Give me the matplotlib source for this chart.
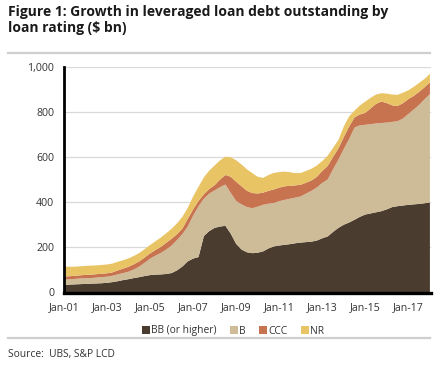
import matplotlib
matplotlib.use("Agg")
import matplotlib.pyplot as plt
import matplotlib.lines as mlines
import matplotlib.patches as mpatches
import numpy as np

# Quarterly observations, Jan-2001 .. Jan-2018 ($ bn)
start_year = 2001
quarters_per_year = 4
bb = [34, 35, 36, 37, 38, 39, 40, 41, 43, 46, 50, 55, 59, 64, 68, 73, 77, 79, 80, 82,
      86, 98, 115, 138, 150, 157, 250, 272, 286, 292, 295, 260, 215, 190, 178, 174, 176, 182, 195, 204,
      208, 211, 214, 218, 221, 223, 225, 230, 240, 248, 268, 286, 300, 310, 322, 335, 345, 350, 355, 360,
      368, 378, 382, 385, 388, 390, 392, 395, 398]
b = [23, 23, 24, 25, 25, 25, 26, 27, 27, 28, 30, 31, 33, 38, 47, 59, 73, 84, 95, 108,
     122, 134, 143, 154, 190, 225, 165, 166, 166, 174, 183, 180, 190, 200, 200, 199, 204, 206, 198, 192,
     196, 199, 201, 202, 204, 215, 225, 235, 245, 252, 277, 302, 335, 370, 408, 405, 397, 395, 393, 390,
     384, 377, 376, 385, 402, 420, 438, 460, 480]
ccc = [14, 14, 14, 14, 15, 15, 15, 15, 15, 15, 18, 20, 22, 23, 23, 23, 23, 25, 27, 30,
       30, 26, 25, 34, 28, 23, 20, 20, 23, 34, 42, 72, 85, 80, 72, 67, 58, 54, 57, 60,
       60, 60, 57, 54, 52, 48, 46, 47, 53, 60, 55, 50, 53, 55, 45, 48, 53, 70, 87, 95,
       86, 73, 67, 68, 66, 60, 58, 53, 52]
nr = [44, 42, 40, 40, 40, 40, 39, 39, 39, 39, 38, 37, 37, 37, 37, 37, 37, 39, 41, 42,
      44, 48, 52, 49, 57, 63, 75, 82, 87, 85, 81, 86, 95, 96, 95, 88, 74, 65, 70, 73,
      69, 65, 60, 54, 52, 52, 52, 50, 44, 45, 40, 37, 47, 45, 30, 40, 50, 47, 41, 37,
      42, 48, 50, 46, 39, 40, 40, 37, 38]

series_labels = ["BB (or higher)", "B", "CCC", "NR"]
series_colors = ["#4b3c30", "#cebc98", "#c87350", "#e9c464"]
tick_years = [2001, 2003, 2005, 2007, 2009, 2011, 2013, 2015, 2017]
tick_labels = ["Jan-01", "Jan-03", "Jan-05", "Jan-07", "Jan-09", "Jan-11", "Jan-13", "Jan-15", "Jan-17"]
y_ticks = [0, 200, 400, 600, 800, 1000]
y_tick_labels = ["0", "200", "400", "600", "800", "1,000"]

plt.rcParams['font.family'] = ['Open Sans', 'DejaVu Sans']

W, H = 436, 365
fig = plt.figure(figsize=(W / 100, H / 100), dpi=100)

x = start_year + np.arange(len(bb)) / quarters_per_year

ax_l, ax_r, ax_b, ax_t = 64, 431, 292.5, 66.5
ax = fig.add_axes([ax_l / W, 1 - ax_b / H, (ax_r - ax_l) / W, (ax_b - ax_t) / H])
ax.stackplot(x, bb, b, ccc, nr, colors=series_colors, labels=series_labels, linewidth=0)
ax.set_xlim(start_year, x[-1] + 0.05)
ax.set_ylim(0, 1000)
ax.set_yticks(y_ticks)
ax.set_yticklabels(y_tick_labels)
ax.set_xticks(tick_years)
ax.set_xticklabels(tick_labels)
ax.grid(axis='y', color='#d9d9d9', linewidth=0.9)
ax.set_axisbelow(True)
for s in ['top', 'right']:
    ax.spines[s].set_visible(False)
ax.spines['left'].set_linewidth(2.0)
ax.spines['bottom'].set_linewidth(2.4)
ax.spines['left'].set_color('black')
ax.spines['bottom'].set_color('black')
ax.tick_params(axis='both', length=0, labelsize=7.6, colors='#333333')
ax.tick_params(axis='y', pad=7)
ax.tick_params(axis='x', pad=7)

# Title
fig.text(8 / W, 1 - 5 / H, "Figure 1: Growth in leveraged loan debt outstanding by\nloan rating ($ bn)",
         ha='left', va='top', fontsize=10, fontweight='bold', color='#1a1a1a', linespacing=1.2)

# separators
fig.add_artist(mlines.Line2D([8 / W, 430 / W], [1 - 53 / H, 1 - 53 / H], color='#cfcfcf', linewidth=1.6))
fig.add_artist(mlines.Line2D([8 / W, 430 / W], [1 - 338 / H, 1 - 338 / H], color='#cfcfcf', linewidth=1.6))

# Legend
handles = [mpatches.Patch(facecolor=c, edgecolor='none') for c in series_colors]
fig.legend(handles, series_labels, loc='center', bbox_to_anchor=(233 / W, 1 - 331 / H), ncol=4,
           frameon=False, fontsize=7.4, handlelength=0.75, handleheight=0.75, handletextpad=0.15,
           columnspacing=1.3, labelcolor='#333333')

fig.text(8 / W, 1 - 354 / H, "Source:  UBS, S&P LCD", ha='left', va='center', fontsize=7.4, color='#333333')

fig.savefig("out.png", dpi=100)
